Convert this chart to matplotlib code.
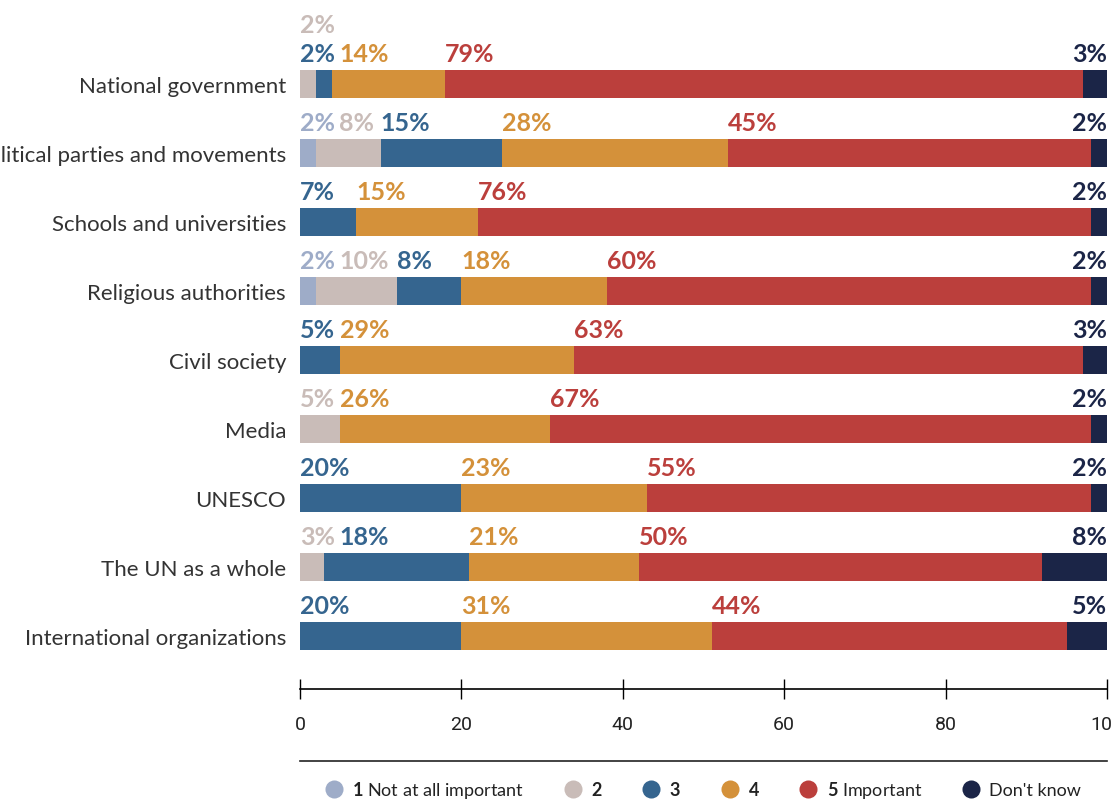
import matplotlib
matplotlib.use("Agg")
import matplotlib.pyplot as plt
from matplotlib.lines import Line2D

plt.rcParams["font.family"] = ["Lato", "DejaVu Sans"]
plt.rcParams["mathtext.fontset"] = "custom"
plt.rcParams["mathtext.rm"] = "Lato"
plt.rcParams["mathtext.bf"] = "Lato:bold"

categories = [
    "National government",
    "Political parties and movements",
    "Schools and universities",
    "Religious authorities",
    "Civil society",
    "Media",
    "UNESCO",
    "The UN as a whole",
    "International organizations",
]

# share of answers per scale level, one list per level (same order as categories)
not_important = [0, 2, 0, 2, 0, 0, 0, 0, 0]
level_2 = [2, 8, 0, 10, 0, 5, 0, 3, 0]
level_3 = [2, 15, 7, 8, 5, 0, 20, 18, 20]
level_4 = [14, 28, 15, 18, 29, 26, 23, 21, 31]
important = [79, 45, 76, 60, 63, 67, 55, 50, 44]
dont_know = [3, 2, 2, 2, 3, 2, 2, 8, 5]

series = [not_important, level_2, level_3, level_4, important, dont_know]
legend_labels = [r"$\mathbf{1}$ Not at all important", r"$\mathbf{2}$", r"$\mathbf{3}$",
                 r"$\mathbf{4}$", r"$\mathbf{5}$ Important", "Don't know"]
colors = ["#9eacc8", "#c9bcb8", "#35658f", "#d4913a", "#bb3f3c", "#1b2547"]

# value labels that sit one line higher to avoid a collision
raised = {(0, 1)}

fig = plt.figure(figsize=(11.13, 8.12), dpi=100)
ax = fig.add_axes([300 / 1113, 122 / 812, 807 / 1113, 690 / 812])

ypos = list(range(len(categories)))
left = [0] * len(categories)
for vals, col in zip(series, colors):
    ax.barh(ypos, vals, left=left, height=0.4, color=col, linewidth=0)
    left = [l + v for l, v in zip(left, vals)]

ax.set_xlim(0, 100)
ax.set_ylim(8.77, -1.23)
ax.set_yticks(ypos)
ax.set_yticklabels(categories, fontsize=16, color="#333333")
ax.tick_params(axis="y", length=0, pad=10)
ax.set_xticks([0, 20, 40, 60, 80, 100])
ax.tick_params(axis="x", direction="inout", length=14, width=1, pad=12,
               labelsize=14, labelcolor="#222222")
for lbl in ax.get_xticklabels():
    lbl.set_fontfamily("Roboto")
for s in ["top", "right", "left"]:
    ax.spines[s].set_visible(False)
ax.spines["bottom"].set_linewidth(1.2)

# value labels above each segment
fig.canvas.draw()
renderer = fig.canvas.get_renderer()
px_per_unit = ax.transData.transform((1, 0))[0] - ax.transData.transform((0, 0))[0]
gap = 4 / px_per_unit
for i in ypos:
    lanes = {}
    start = 0
    for k, (vals, col) in enumerate(zip(series, colors)):
        v = vals[i]
        if v == 0:
            continue
        lane = 1 if (i, k) in raised else 0
        y = i - 0.33 - 0.42 * lane
        if k == len(series) - 1:
            ax.text(100, y, f"{v}%", ha="right", va="baseline", fontsize=18,
                    fontweight="bold", color=col, clip_on=False)
        else:
            x = max(start, lanes[lane] + gap) if lane in lanes else 0
            t = ax.text(x, y, f"{v}%", ha="left", va="baseline", fontsize=18,
                        fontweight="bold", color=col, clip_on=False)
            w = t.get_window_extent(renderer).width / px_per_unit
            lanes[lane] = x + w
        start += v

# rule and legend below the axis
fig.add_artist(Line2D([300 / 1113, 1107 / 1113], [1 - 762 / 812] * 2,
                      color="#222222", linewidth=1.2))
handles = [Line2D([], [], marker="o", linestyle="", markersize=13,
                  markerfacecolor=c, markeredgewidth=0) for c in colors]
fig.legend(handles, legend_labels, loc="center", ncol=6, frameon=False,
           bbox_to_anchor=(703 / 1113, 1 - 791 / 812), fontsize=13,
           handletextpad=0.5, columnspacing=2.2, handlelength=1.0,
           labelcolor="#222222")

fig.savefig("out.png", dpi=100)
